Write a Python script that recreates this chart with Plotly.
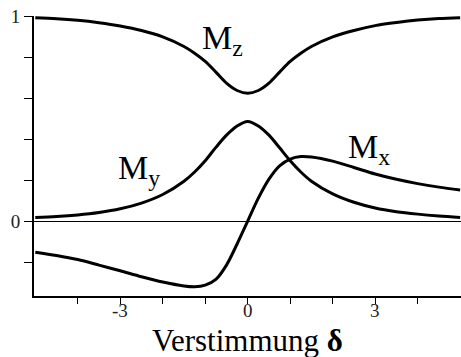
import plotly.graph_objects as go

# Detuning axis (units of linewidth)
delta = [-5, -4.5, -4, -3.5, -3, -2.5, -2, -1.5, -1.25, -1, -0.75, -0.5, -0.25, 0,
         0.25, 0.5, 0.75, 1, 1.25, 1.5, 2, 2.5, 3, 3.5, 4, 4.5, 5]

# Steady-state Bloch vector components
m_z = [0.994, 0.989, 0.981, 0.969, 0.953, 0.931, 0.900, 0.853, 0.820, 0.780, 0.728, 0.674, 0.638, 0.625,
       0.638, 0.674, 0.728, 0.780, 0.820, 0.853, 0.900, 0.931, 0.955, 0.970, 0.982, 0.990, 0.994]
m_y = [0.017, 0.022, 0.030, 0.042, 0.060, 0.088, 0.130, 0.195, 0.240, 0.295, 0.360, 0.420, 0.465, 0.487,
       0.465, 0.420, 0.358, 0.295, 0.240, 0.195, 0.133, 0.092, 0.064, 0.046, 0.034, 0.025, 0.018]
m_x = [-0.152, -0.168, -0.188, -0.215, -0.243, -0.272, -0.298, -0.317, -0.321, -0.313, -0.285, -0.215, -0.112, 0.0,
       0.112, 0.205, 0.270, 0.303, 0.315, 0.313, 0.293, 0.262, 0.230, 0.204, 0.183, 0.166, 0.152]

x_major = [-3, 0, 3]
x_major_text = ["-3", "0", "3"]
x_minor = [-4, -2, -1, 1, 2, 4]
y_major = [0, 1]
y_major_text = ["0", "1"]
y_minor = [-0.2, 0.2, 0.4, 0.6, 0.8]

FONT = "Liberation Serif, Times New Roman, DejaVu Serif, serif"
INK = "#000000"

fig = go.Figure()
for vals in (m_z, m_y, m_x):
    fig.add_trace(go.Scatter(
        x=delta, y=vals, mode="lines",
        line=dict(color=INK, width=3, shape="spline", smoothing=0.9),
        hoverinfo="skip", showlegend=False,
    ))

# curve names next to each component
labels = [("M<sub>z</sub>", -0.6, 0.885),
          ("M<sub>y</sub>", -2.55, 0.25),
          ("M<sub>x</sub>", 2.85, 0.35)]
for txt, lx, ly in labels:
    fig.add_annotation(x=lx, y=ly, xref="x", yref="y", text=txt, showarrow=False,
                       font=dict(family=FONT, size=34, color=INK),
                       xanchor="center", yanchor="middle")

# x tick labels placed just under the axis
for v, t in zip(x_major, x_major_text):
    fig.add_annotation(x=v, y=-0.05, xref="x", yref="paper", text=t, showarrow=False,
                       font=dict(family=FONT, size=19, color="#222"),
                       xanchor="center", yanchor="middle")

fig.add_annotation(x=0.5, y=-0.16, xref="paper", yref="paper",
                   text="Verstimmung <b>δ</b>", showarrow=False,
                   font=dict(family=FONT, size=31, color=INK),
                   xanchor="center", yanchor="middle")

fig.update_layout(
    width=461, height=357,
    margin=dict(l=34, r=0, t=16, b=61),
    paper_bgcolor="white", plot_bgcolor="white",
    font=dict(family=FONT),
    xaxis=dict(
        range=[-5.03, 5.02], showgrid=False, zeroline=False,
        showline=True, linecolor=INK, linewidth=1.7,
        tickmode="array", tickvals=x_major + x_minor, showticklabels=False,
        ticks="outside", ticklen=6, tickwidth=1.3, tickcolor=INK,
    ),
    yaxis=dict(
        range=[-0.366, 1.002], showgrid=False,
        zeroline=True, zerolinecolor=INK, zerolinewidth=1.3,
        showline=True, linecolor=INK, linewidth=1.7,
        tickmode="array", tickvals=y_major, ticktext=y_major_text,
        ticks="outside", ticklen=8, tickwidth=1.3, tickcolor=INK,
        tickfont=dict(family=FONT, size=19, color="#222"),
        minor=dict(tickmode="array", tickvals=y_minor, ticks="outside",
                   ticklen=8, tickwidth=1.3, tickcolor=INK, showgrid=False),
    ),
)

fig.write_html("out.html")
